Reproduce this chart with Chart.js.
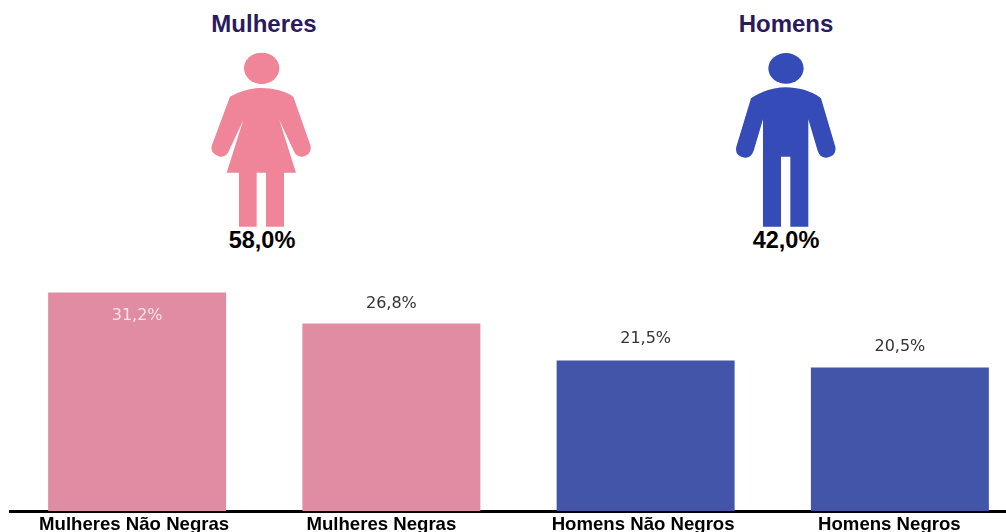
<!DOCTYPE html>
<html lang="pt">
<head>
<meta charset="utf-8">
<script src="https://cdn.jsdelivr.net/npm/chart.js@4"></script>
<style>
    html, body { margin: 0; padding: 0; background: #fff; width: 1006px; height: 532px; overflow: hidden; }
    .txt { position: absolute; width: 200px; text-align: center; font-family: "Liberation Sans", Arial, sans-serif; font-weight: bold; line-height: 26px; }
    .titulo { color: #2b1a5c; top: 11px; font-size: 24px; }
    .total { color: #000; top: 227px; font-size: 23.5px; }
    svg { position: absolute; left: 0; top: 0; }
    #box { position: absolute; left: 0; top: 260px; width: 1027px; height: 272px; }
</style>
</head>
<body>
<svg width="1006" height="260">
    <!-- mulher -->
    <g transform="translate(190,0) scale(0.3333)" fill="#f08499">
        <ellipse cx="215" cy="205" rx="53" ry="47"/>
        <path d="M120 290 C150 272 185 264 215 264 S285 272 310 290 L361 435 Q368 462 338 470 Q318 472 310 450 L268 360 L318 518 L282 518 L282 680 L228 680 L228 518 L200 518 L200 680 L147 680 L147 518 L110 518 L160 360 L118 450 Q110 472 90 470 Q58 462 66 435 Z"/>
    </g>
    <!-- homem -->
    <g transform="translate(715,0) scale(0.3333)" fill="#344bb8">
        <ellipse cx="213" cy="205" rx="53" ry="46"/>
        <path d="M108 295 C140 272 180 262 213 262 S290 272 318 295 L361 440 Q366 468 335 473 Q315 474 308 452 L280 358 L280 680 L226 680 L226 470 L198 470 L198 680 L144 680 L144 358 L116 452 Q108 474 90 473 Q58 468 64 440 Z"/>
    </g>
</svg>
<div class="txt titulo" style="left:164px">Mulheres</div>
<div class="txt titulo" style="left:686px">Homens</div>
<div class="txt total" style="left:162px">58,0%</div>
<div class="txt total" style="left:686px">42,0%</div>
<div id="box"><canvas id="grafico"></canvas></div>

<script>
    const categorias = ["Mulheres Não Negras", "Mulheres Negras", "Homens Não Negros", "Homens Negros"];
    const valores = [31.2, 26.8, 21.5, 20.5];
    const rotulos = ["31,2%", "26,8%", "21,5%", "20,5%"];
    const coresBarras = ["#e08ca2", "#e08ca2", "#4355a8", "#4355a8"];
    const coresRotulos = ["#f6e4e8", "#333333", "#333333", "#333333"];
    const deslocRotulos = [23, -20, -22, -21];
    // as categorias não ficam centradas nas barras no original
    const deslocCategorias = [-3, -10, -2.5, -10.5];

    // Rótulos de valor sobre as barras e nomes das categorias
    const rotulosPlugin = {
        id: "rotulosPlugin",
        afterDatasetsDraw(chart) {
            const ctx = chart.ctx;
            const x = chart.scales.x;
            ctx.save();
            ctx.font = '16px "DejaVu Sans"';
            ctx.textAlign = "center";
            ctx.textBaseline = "middle";
            chart.getDatasetMeta(0).data.forEach(function (bar, i) {
                ctx.fillStyle = coresRotulos[i];
                ctx.fillText(rotulos[i], bar.x, bar.y + deslocRotulos[i]);
            });
            ctx.font = 'bold 18.6px "Liberation Sans"';
            ctx.textBaseline = "alphabetic";
            ctx.fillStyle = "#000";
            categorias.forEach(function (nome, i) {
                ctx.fillText(nome, x.getPixelForTick(i) + deslocCategorias[i], x.bottom - 2);
            });
            ctx.restore();
        }
    };

    new Chart(document.getElementById("grafico").getContext("2d"), {
        type: "bar",
        data: {
            labels: categorias,
            datasets: [{
                data: valores,
                backgroundColor: coresBarras,
                categoryPercentage: 1,
                barPercentage: 0.7
            }]
        },
        options: {
            responsive: true,
            maintainAspectRatio: false,
            animation: false,
            layout: { padding: { left: 10, top: 6, right: 0, bottom: 0 } },
            plugins: {
                legend: { display: false },
                tooltip: { enabled: false }
            },
            scales: {
                x: {
                    afterFit(scale) { scale.height = 21; },
                    grid: { display: false, drawTicks: false },
                    border: { color: "#000", width: 3 },
                    ticks: { display: false }
                },
                y: { display: false, min: 0, max: 35 }
            }
        },
        plugins: [rotulosPlugin]
    });
</script>
</body>
</html>
